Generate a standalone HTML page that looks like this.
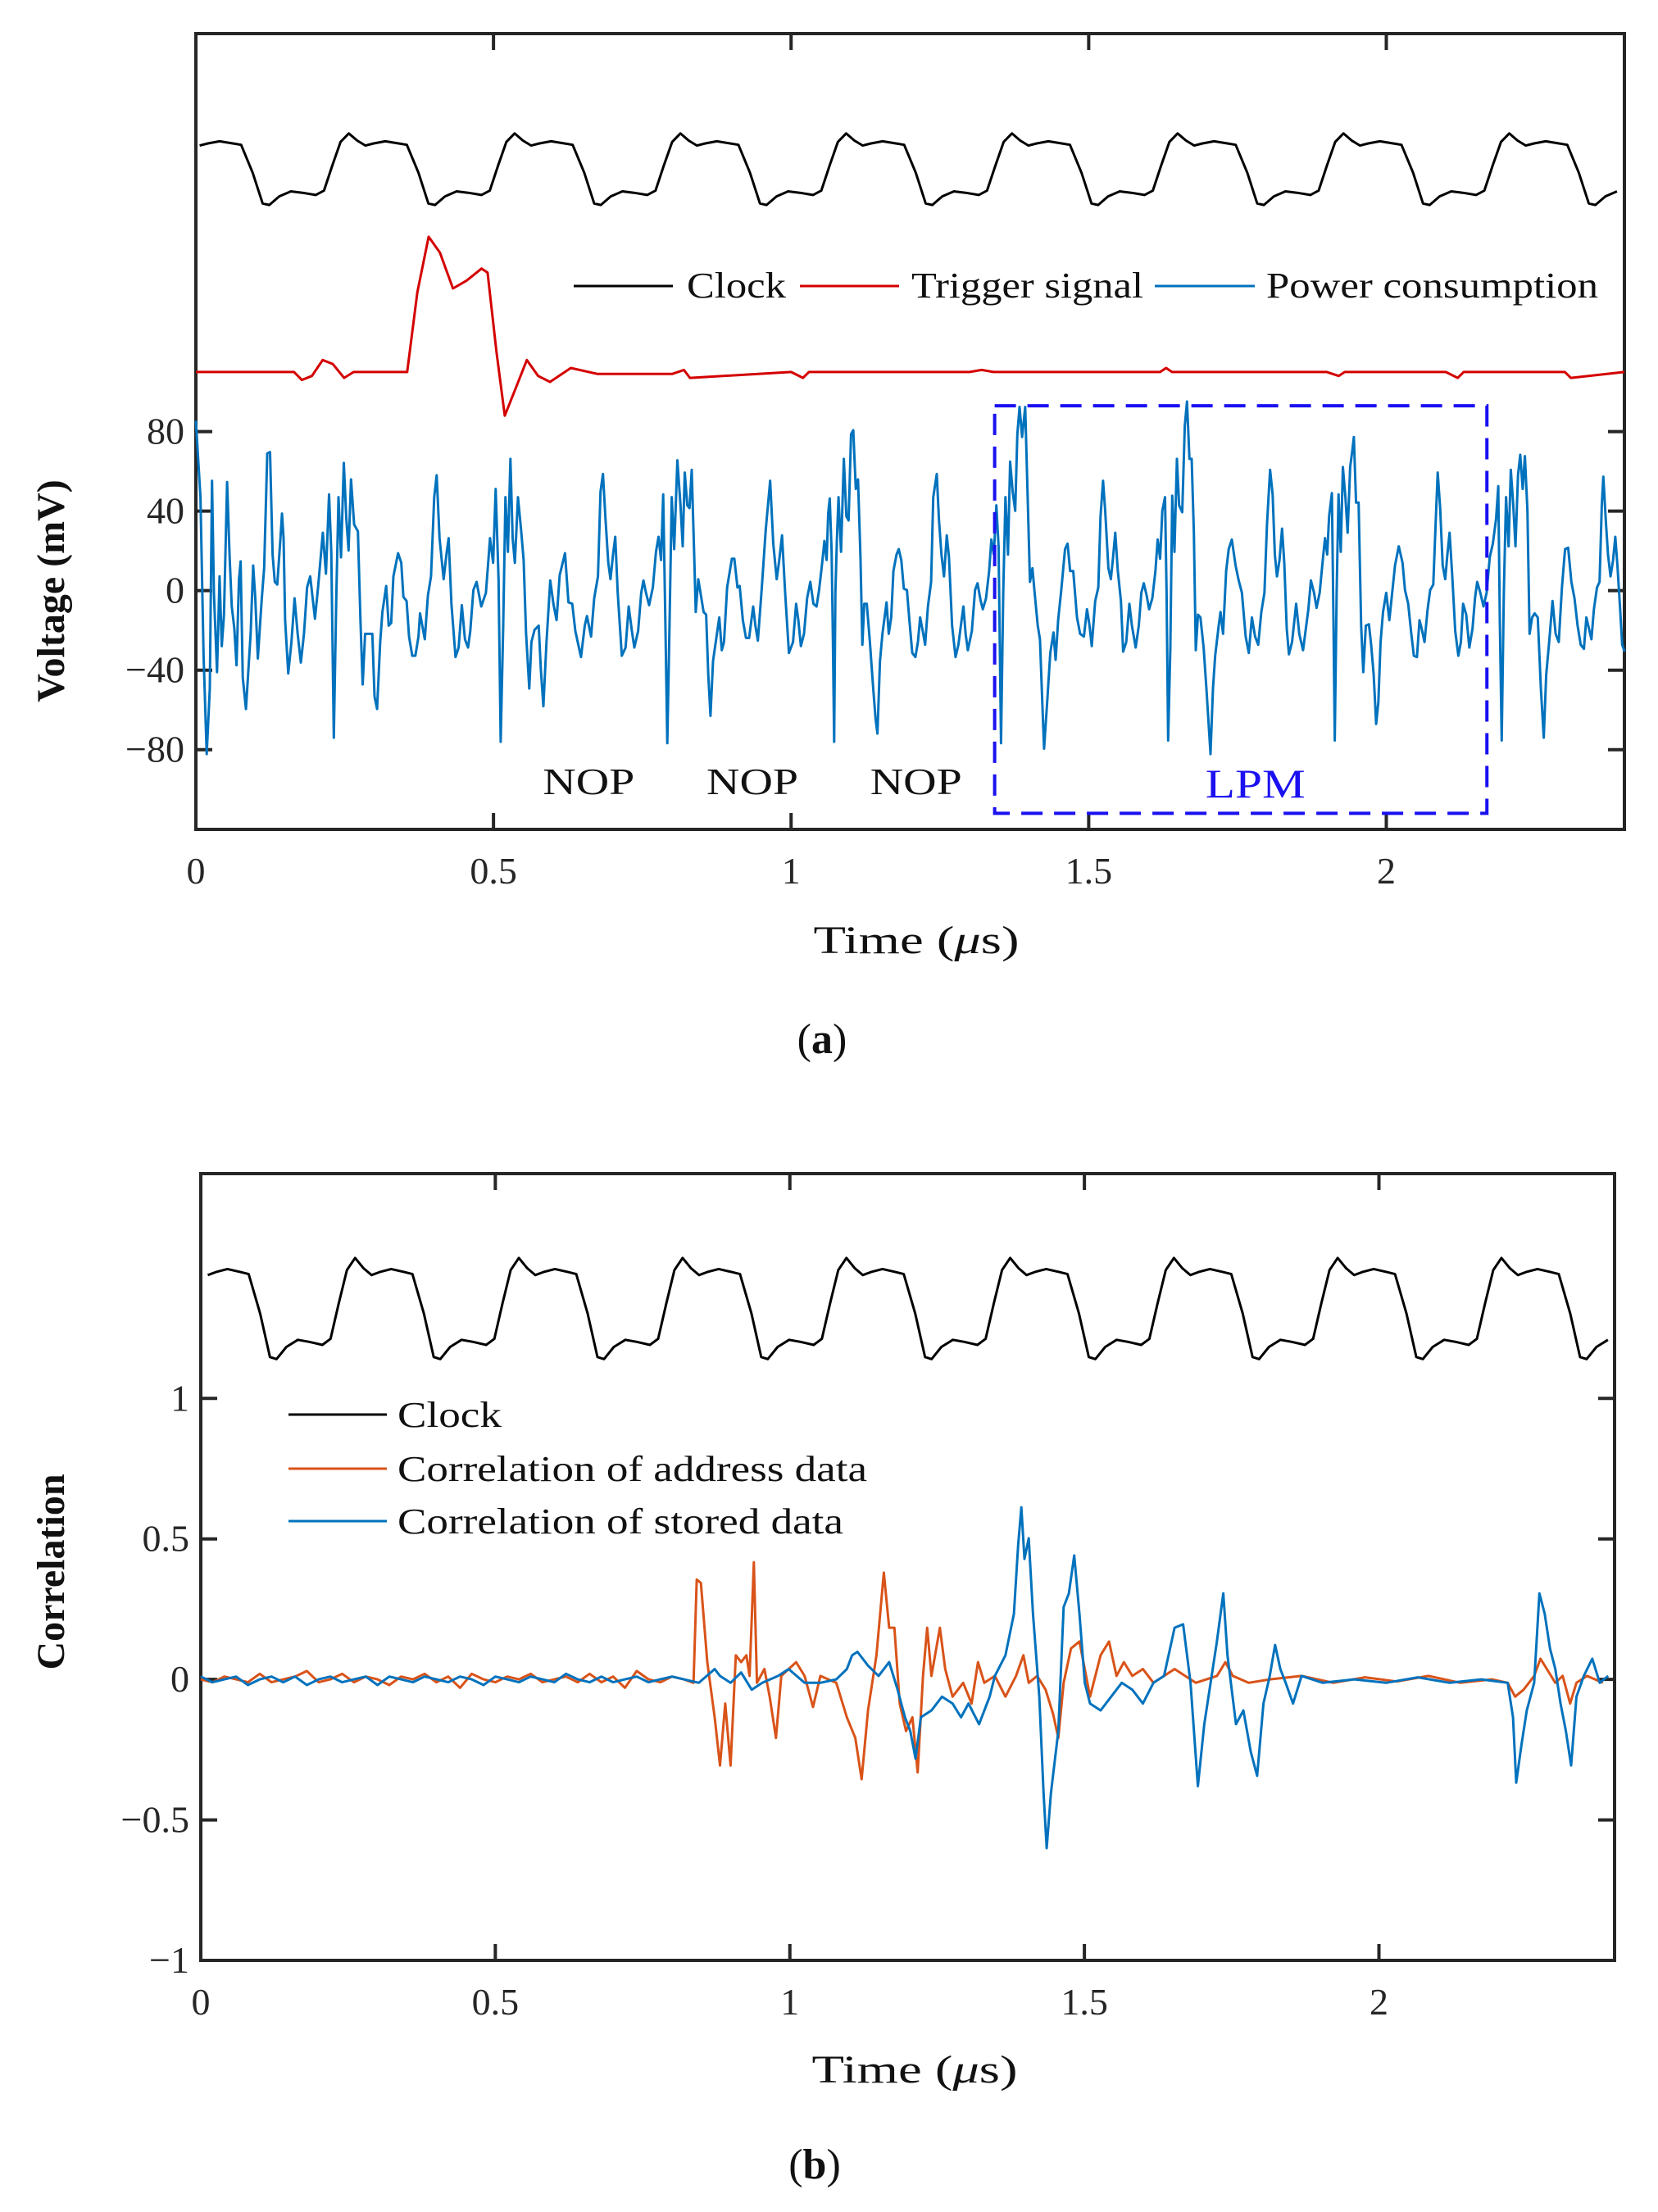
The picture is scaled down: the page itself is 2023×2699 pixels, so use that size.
<!DOCTYPE html>
<html><head><meta charset="utf-8"><style>
html,body{margin:0;padding:0;background:#fff;}
svg{display:block;font-family:"Liberation Serif","DejaVu Serif",serif;}
</style></head><body>
<svg id="fig" width="2023" height="2699" viewBox="0 0 2023 2699" xmlns="http://www.w3.org/2000/svg">
<g id="pa"></g>
<g id="pb"></g>
</svg>
<script>
// ---------- Panel (a) data ----------
const aXTicks=[0,0.5,1,1.5,2];
const aXTickLabels=["0","0.5","1","1.5","2"];
const aYTicks=[-80,-40,0,40,80];
const aYTickLabels=["\u221280","\u221240","0","40","80"];
const clockPhase=[0,0.05,0.1,0.15,0.22,0.3,0.35,0.42,0.48,0.52,0.58,0.65,0.72,0.8,0.85,0.9,0.95,1];
const clockShape=[1,0.9,0.83,0.86,0.89,0.86,0.84,0.45,0.02,0,0.12,0.19,0.17,0.14,0.2,0.55,0.88,1];
const aClockPeak=0.257, aClockPeriod=0.2785, aClockLow=194, aClockHigh=230;
const bClockPeak=0.262, bClockPeriod=0.278, bClockLow=1.14, bClockHigh=1.50;
// trigger
const trigT=[0,0.165,0.178,0.195,0.213,0.23,0.249,0.265,0.355,0.372,0.391,0.41,0.432,0.455,0.48,0.49,0.505,0.519,0.535,0.556,0.575,0.595,0.63,0.675,0.8,0.82,0.83,1.0,1.02,1.03,1.3,1.32,1.34,1.62,1.63,1.64,1.9,1.92,1.93,2.1,2.12,2.13,2.3,2.31,2.4];
const trigV=[110,110,106,108,116,114,107,110,110,150,178,170,152,156,162,160,120,88,100,116,108,105,112,109,109,111,107,110,107,110,110,111,110,110,112,110,110,108,110,110,107,110,110,107,110];
// power consumption (read points: zoom x -> t, zoom y -> mV)
const pw1X=[15,25,35,45,55,62,68,78,86,93,100,110,118,125,133,140,148,153,160,170,185,193,200,208,220,228,238,247,255,262,270,280,285,290,295,305,315,325,335,345,355,365,375,390,400,415,425,435,442,450,458,465,473,482,490,497,505,515,527,535,542,550,565,573,580,588,598,605,617,625,633,640,655,665,672,682,690,700,710,720,725,740,750,760,770,778,787,800,810,816,825,838,848,858,868,878,885,895,905,920,935,948,958,966,975,982,990,997,1005,1013,1020,1027,1037,1047,1055,1063,1073,1080,1090,1103,1110,1118,1128,1140,1150,1160,1170,1187,1198,1210,1220,1238,1250,1257,1270,1280,1292,1300,1308,1316,1325,1332,1340,1347,1355,1368,1380,1390,1400,1408,1420,1430,1437,1445,1455,1467,1477,1485,1493,1500,1507,1513,1520,1527,1535,1545,1555,1562];
const pw1Y=[70,350,930,1290,1050,290,700,990,640,895,780,295,570,750,830,965,650,585,1010,1125,850,600,720,940,730,610,190,185,560,660,670,500,410,500,800,995,880,720,850,955,850,680,640,795,680,480,630,340,550,1230,720,350,570,225,430,545,285,450,475,800,1035,850,850,850,1080,1125,880,770,675,820,810,640,555,590,715,730,860,930,930,860,775,870,710,640,350,270,500,650,550,500,740,935,900,745,870,900,840,690,660,750,700,500,590,320,650,1245,820,350,550,210,500,590,350,470,580,850,1050,880,835,820,980,1115,880,655,740,800,635,555,735,740,840,935,820,785,860,720,640,330,265,430,590,650,560,495,700,930,900,750,840,900,840,700,655,700,745,680,550,495,580,340,820,1250,820,350,540,215,380,530];
const pw2X=[40,48,55,62,70,75,83,90,100,108,115,122,130,140,150,158,165,175,190,198,208,215,225,235,245,258,265,273,285,298,312,322,333,340,350,360,372,385,395,402,410,420,430,440,450,460,468,478,485,492,497,502,508,512,516,520,525,530,538,547,555,562,570,577,585,592,600,606,612,620,630,640,648,654,662,670,683,690,698,705,715,722,730,738,748,755,765,775,783,790,800,806,815,825,832,843,850,858,866,875,882,892,903,912,920,928,935,942,955,965,973,983,990,1000,1010,1017,1025,1033,1040,1048,1055,1062,1070,1077,1085,1093,1100,1107,1115,1125,1133,1140,1148,1155,1165,1172,1180,1185,1195,1205,1215,1222,1230,1240,1252,1260,1268,1278,1290,1300,1312,1322,1330,1337,1348,1358,1365,1373,1380,1390,1398,1405,1412,1420,1430,1437,1447,1457,1465,1477,1487,1495,1503,1512,1520,1530,1540,1547,1555,1562];
const pw2Y=[260,380,390,250,560,770,650,700,770,780,1000,1150,950,870,790,910,880,680,575,575,680,675,800,865,865,750,820,875,690,470,290,520,650,590,490,700,920,880,740,800,895,850,720,660,740,750,690,590,510,580,410,355,550,860,1245,700,500,350,550,210,420,435,120,105,320,285,570,890,740,740,880,1040,1160,1215,950,850,735,850,790,620,560,540,580,685,690,790,920,935,880,790,850,890,750,660,350,265,430,560,640,490,570,820,935,890,820,750,850,910,840,690,665,730,760,720,620,505,560,380,530,1250,700,350,560,220,330,400,120,20,130,20,360,660,610,700,820,870,1120,1270,1100,920,845,945,800,690,540,520,620,620,790,850,860,760,820,895,730,680,420,290,400,610,650,570,480,620,730,915,880,740,820,900,820,700,665,710,760,720,620,505,575,400];
const pw3X=[55,60,65,72,78,85,93,100,110,118,125,133,140,147,153,160,168,178,187,200,208,215,225,232,240,250,258,268,280,290,300,312,322,332,342,352,362,372,380,390,398,405,412,420,428,435,443,450,460,473,483,495,505,512,520,530,538,548,558,565,572,578,587,592,596,602,608,615,622,630,637,645,652,657,664,672,680,687,695,705,712,720,728,735,742,750,760,770,780,788,800,812,820,830,840,848,858,866,873,882,892,900,910,918,924,932,940,948,955,962,970,980,990,998,1005,1015,1025,1035,1043,1050,1060,1070,1080,1090,1100,1110,1117,1122,1128,1135,1142,1150,1157,1165,1172,1180,1187,1195,1202,1210,1217,1225,1233,1243,1253,1262,1270,1280,1290,1300,1310,1320,1330,1340,1350,1360,1370,1380,1390,1398,1406,1414,1422,1432,1440,1447,1452,1460,1467,1475,1483,1490,1497,1505,1512,1520];
const pw3Y=[350,700,1240,900,345,550,210,380,405,90,0,210,210,480,910,780,790,900,1050,1290,1050,930,830,770,850,620,540,505,600,655,700,860,920,790,860,890,770,700,450,250,340,560,640,580,465,590,830,925,880,740,850,910,820,760,655,700,755,700,580,500,560,420,335,820,1240,700,340,550,240,350,480,240,180,130,370,370,820,990,820,815,890,1000,1180,1100,880,770,700,800,690,600,530,590,690,740,850,930,935,800,830,880,760,690,670,430,260,390,600,650,560,480,630,840,930,880,740,780,900,830,720,660,700,750,700,570,520,430,310,800,1240,700,350,530,250,380,530,270,195,320,200,400,850,790,775,790,1050,1230,1000,870,730,850,880,680,540,535,660,720,820,890,905,790,830,870,760,680,660,380,275,440,560,640,580,495,600,750,890,915];
// ---------- Panel (b) data ----------
const bYTicks=[-1,-0.5,0,0.5,1];
const bYTickLabels=["\u22121","\u22120.5","0","0.5","1"];
const quietT=[0,0.02,0.04,0.06,0.08,0.1,0.12,0.14,0.16,0.18,0.2,0.22,0.24,0.26,0.28,0.3,0.32,0.34,0.36,0.38,0.4,0.42,0.44,0.46,0.48,0.5,0.52,0.54,0.56,0.58,0.6,0.62,0.64,0.66,0.68,0.7,0.72,0.74,0.76,0.78,0.8,0.82];
const addrQuiet=[0,-0.01,0.01,0,-0.01,0.02,-0.01,0,0.01,0.03,-0.01,0,0.02,-0.01,0.01,0,-0.02,0.01,0,0.02,-0.01,0.01,-0.03,0.02,0,-0.01,0.01,0,0.02,-0.01,0,0.01,-0.01,0.02,-0.01,0.01,-0.03,0.03,0,-0.01,0.01,0];
const storQuiet=[0.01,-0.01,0,0.01,-0.02,0,0.01,-0.01,0.01,-0.02,0,0.01,-0.01,0,0.01,-0.02,0.01,0,-0.01,0.01,0,-0.01,0.01,0,-0.02,0.01,0,-0.01,0.01,0,-0.01,0.02,0,-0.01,0.01,-0.01,0,0.01,-0.01,0,0.01,0];
const addrX=[655,658,662,668,675,680,685,690,695,700,705,708,712,715,722,727,733,738,745,752,760,768,775,790,800,808,814,820,828,835,840,845,850,856,862,867,872,876,880,888,893,900,910,918,924,930,940,950,960,967,972,980,988,995,1000,1005,1012,1020,1025,1030,1040,1048,1055,1062,1070,1080,1090,1100,1110,1120,1130,1150,1158,1165,1180,1200,1230,1260,1290,1320,1350,1380,1410,1425,1432,1440,1450,1456,1462,1470,1477,1484,1490,1500,1515,1527];
const addrY=[800,650,655,770,850,920,830,920,760,770,760,790,625,800,780,820,880,790,780,770,790,835,790,800,850,880,940,840,760,640,720,720,830,870,850,930,790,720,790,720,780,820,800,830,770,800,790,820,790,760,800,790,810,845,880,800,750,740,780,820,760,740,790,770,790,780,800,790,780,790,800,790,770,790,800,795,790,800,792,798,790,800,795,800,820,810,790,765,780,800,790,830,800,790,800,800];
const storX=[660,675,680,690,700,710,720,735,745,760,775,790,800,805,810,820,830,840,848,855,860,865,870,880,890,900,908,915,925,935,940,950,958,962,965,968,972,976,982,986,989,993,1000,1005,1010,1015,1020,1025,1030,1040,1050,1060,1070,1080,1090,1100,1110,1118,1125,1132,1138,1145,1150,1156,1160,1168,1175,1182,1188,1194,1200,1205,1210,1215,1222,1230,1250,1280,1310,1340,1370,1400,1425,1430,1433,1438,1443,1450,1455,1460,1465,1470,1475,1480,1485,1490,1497,1505,1512,1520,1527];
const storY=[800,780,790,800,785,810,800,790,780,800,800,795,780,760,755,775,790,770,810,850,870,910,850,840,820,830,850,830,860,820,790,760,700,600,545,620,590,700,820,960,1040,960,870,690,670,615,700,800,830,840,820,800,810,830,800,790,720,715,800,950,860,790,740,670,760,860,840,900,935,830,790,745,780,800,830,790,800,795,800,792,800,795,800,850,945,890,840,800,670,700,750,780,830,870,920,820,790,765,800,790,820];

const NS="http://www.w3.org/2000/svg";
function mk(parent,tag,attrs){const e=document.createElementNS(NS,tag);for(const k in attrs)e.setAttribute(k,attrs[k]);parent.appendChild(e);return e;}

const A={l:239,r:1982,t:41,b:1012,x0:0,x1:2.4,y0:-120.1,y1:280.2};
const B={l:245,r:1970,t:1432,b:2392,x0:0,x1:2.4,y0:-1,y1:1.8};
function sx(P,v){return P.l+(v-P.x0)/(P.x1-P.x0)*(P.r-P.l);}
function sy(P,v){return P.b-(v-P.y0)/(P.y1-P.y0)*(P.b-P.t);}
function pathFrom(P,ts,vs){let d="";for(let i=0;i<ts.length;i++){d+=(i?"L":"M")+sx(P,ts[i]).toFixed(1)+" "+sy(P,vs[i]).toFixed(1);}return d;}
function clockSeries(peak,period,lo,hi){const ts=[],vs=[];for(let k=-2;k<12;k++){for(let j=0;j<clockPhase.length-1;j++){const t=peak+(k+clockPhase[j])*period;if(t>=-0.05&&t<=2.45){ts.push(t);vs.push(lo+clockShape[j]*(hi-lo));}}}return [ts,vs];}
function clip(ts,vs){const T=[],V=[];for(let i=0;i<ts.length;i++){if(ts[i]>=0&&ts[i]<=2.4){T.push(ts[i]);V.push(vs[i]);}}return [T,V];}

function axes(g,P,xt,xl,yt,yl,name){
  const box=mk(g,"rect",{x:P.l,y:P.t,width:P.r-P.l,height:P.b-P.t,fill:"none",stroke:"#262626","stroke-width":4});
  
  
  xt.forEach((v,i)=>{const x=sx(P,v);
    const t1=mk(g,"line",{x1:x,y1:P.b,x2:x,y2:P.b-20,stroke:"#262626","stroke-width":4});
    
    
    mk(g,"line",{x1:x,y1:P.t,x2:x,y2:P.t+20,stroke:"#262626","stroke-width":4});
    const tx=mk(g,"text",{x:x,y:P.b+66,"text-anchor":"middle","font-size":46,fill:"#262626"});
    tx.textContent=xl[i];
    
    
  });
  yt.forEach((v,i)=>{const y=sy(P,v);
    const t1=mk(g,"line",{x1:P.l,y1:y,x2:P.l+20,y2:y,stroke:"#262626","stroke-width":4});
    
    
    mk(g,"line",{x1:P.r,y1:y,x2:P.r-20,y2:y,stroke:"#262626","stroke-width":4});
    const tx=mk(g,"text",{x:P.l-14,y:y+15,"text-anchor":"end","font-size":46,fill:"#262626"});
    tx.textContent=yl[i];
    
    
  });
}
function line(g,d,color,name,w){const p=mk(g,"path",{d:d,fill:"none",stroke:color,"stroke-width":w||3,"stroke-linejoin":"round"});
  
  return p;}
function text(g,x,y,s,size,anchor,name,fill){const t=mk(g,"text",{x:x,y:y,"font-size":size,"text-anchor":anchor,fill:fill||"#111"});t.textContent=s;
  
  return t;}
function fit(t,w){t.setAttribute("textLength",w);t.setAttribute("lengthAdjust","spacingAndGlyphs");}
function timeLabel(g,cx,y,name){const t=text(g,cx,y,"",48,"middle",name);
  const a=mk(t,"tspan",{});a.textContent="Time (";
  const b=mk(t,"tspan",{"font-style":"italic"});b.textContent="\u03bc";
  const c=mk(t,"tspan",{});c.textContent="s)";fit(t,251);return t;}

// ===== Panel a =====
const ga=document.getElementById("pa");
axes(ga,A,aXTicks,aXTickLabels,aYTicks,aYTickLabels,"panel-a");
let c=clockSeries(aClockPeak,aClockPeriod,aClockLow,aClockHigh);c=clip(c[0],c[1]);
line(ga,pathFrom(A,c[0],c[1]),"#000","clock-line-a");
line(ga,pathFrom(A,trigT,trigV),"#d40000","trigger-signal-line");
const pT=[],pV=[];
pw1X.forEach((x,i)=>{pT.push((x-10.5)/1897);pV.push((692-pw1Y[i])*0.1375);});
pw2X.forEach((x,i)=>{pT.push(0.8003+x/1897);pV.push((692-pw2Y[i])*0.1375);});
pw3X.forEach((x,i)=>{pT.push(1.5992+x/1897);pV.push((692-pw3Y[i])*0.1375);});
pT[0]=0;
line(ga,pathFrom(A,pT,pV),"#0072bd","power-consumption-line");
const lpm=mk(ga,"rect",{x:sx(A,1.342),y:sy(A,93),width:sx(A,2.169)-sx(A,1.342),height:sy(A,-112)-sy(A,93),fill:"none",stroke:"#1a10f0","stroke-width":4,"stroke-dasharray":"26 14"});


fit(text(ga,sx(A,0.66),969,"NOP",46,"middle","nop-label-1"),112);
fit(text(ga,sx(A,0.935),969,"NOP",46,"middle","nop-label-2"),112);
fit(text(ga,sx(A,1.21),969,"NOP",46,"middle","nop-label-3"),112);
fit(text(ga,sx(A,1.78),973,"LPM",50,"middle","lpm-label","#1a10f0"),122);
const legA=[[700,821,838,"#000","Clock",121],[976,1097,1112,"#d40000","Trigger signal",283],[1409,1531,1545,"#0072bd","Power consumption",405]];
legA.forEach(L=>{const ln=mk(ga,"line",{x1:L[0],y1:349,x2:L[1],y2:349,stroke:L[3],"stroke-width":3});
  
  
  fit(text(ga,L[2],363,L[4],44,"start","legend-a-entry"),L[5]);});
timeLabel(ga,1118,1163,"x-axis-title-a");
const ya=text(ga,0,0,"Voltage (mV)",48,"middle","y-axis-title-a");
ya.setAttribute("transform","translate(78,721) rotate(-90)");ya.setAttribute("font-weight","bold");
const la=text(ga,1003,1285,"",52,"middle","panel-a-caption");
const t1=mk(la,"tspan",{});t1.textContent="(";const t2=mk(la,"tspan",{"font-weight":"bold"});t2.textContent="a";const t3=mk(la,"tspan",{});t3.textContent=")";

// ===== Panel b =====
const gb=document.getElementById("pb");
axes(gb,B,aXTicks,aXTickLabels,bYTicks,bYTickLabels,"panel-b");
let cb=clockSeries(bClockPeak,bClockPeriod,bClockLow,bClockHigh);cb=clip(cb[0],cb[1]);
line(gb,pathFrom(B,cb[0],cb[1]),"#000","clock-line-b");
function corr(xs,ys,qv){const T=quietT.slice(),V=qv.slice();xs.forEach((x,i)=>{T.push((x-189)*0.001795);V.push((795-ys[i])/408);});return clip(T,V);}
const ad=corr(addrX,addrY,addrQuiet);
line(gb,pathFrom(B,ad[0],ad[1]),"#d95319","address-correlation-line");
const st=corr(storX,storY,storQuiet);
line(gb,pathFrom(B,st[0],st[1]),"#0072bd","stored-correlation-line");
const legB=[[1726,"#000","Clock",127],[1792,"#d95319","Correlation of address data",573],[1856,"#0072bd","Correlation of stored data",544]];
legB.forEach(L=>{const ln=mk(gb,"line",{x1:352,y1:L[0],x2:472,y2:L[0],stroke:L[1],"stroke-width":3});
  
  
  fit(text(gb,485,L[0]+15,L[2],44,"start","legend-b-entry"),L[3]);});
timeLabel(gb,1116,2541,"x-axis-title-b");
const yb=text(gb,0,0,"Correlation",48,"middle","y-axis-title-b");
yb.setAttribute("transform","translate(78,1918) rotate(-90)");yb.setAttribute("font-weight","bold");
const lb=text(gb,994,2658,"",52,"middle","panel-b-caption");
const u1=mk(lb,"tspan",{});u1.textContent="(";const u2=mk(lb,"tspan",{"font-weight":"bold"});u2.textContent="b";const u3=mk(lb,"tspan",{});u3.textContent=")";
</script>
</body></html>
